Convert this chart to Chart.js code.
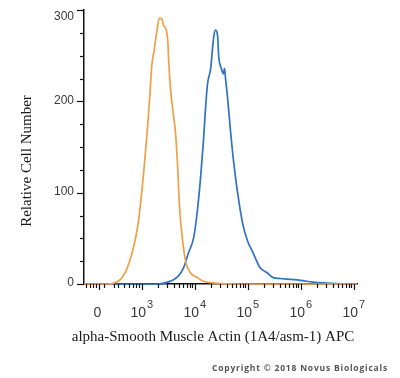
<!DOCTYPE html>
<html>
<head>
<meta charset="utf-8">
<script src="https://cdn.jsdelivr.net/npm/chart.js@4"></script>
<style>
  html, body { margin: 0; padding: 0; background: #fff; }
  #wrap { width: 400px; height: 378px; position: relative; }
</style>
</head>
<body>
<div id="wrap"><canvas id="histChart"></canvas></div>
<script>
// x values are display positions in decades (logicle-like axis), y = cell count
const isotypeX = [1.91, 2.35, 2.47, 2.60, 2.70, 2.83, 2.92, 2.98, 3.04, 3.10, 3.15, 3.19, 3.23, 3.28, 3.33, 3.38, 3.41, 3.45, 3.49, 3.51, 3.54, 3.58, 3.64, 3.68, 3.71, 3.77, 3.83, 3.92, 4.05, 4.16, 4.39, 4.86, 7.06];
const isotypeY = [0, 0, 1, 5, 14, 37, 62, 90, 125, 165, 205, 240, 255, 275, 291, 290, 283, 280, 266, 242, 215, 193, 163, 124, 86, 48, 24, 12, 7, 3, 1, 0, 0];

const sampleX = [1.91, 3.30, 3.49, 3.68, 3.79, 3.88, 3.98, 4.05, 4.11, 4.16, 4.20, 4.24, 4.30, 4.33, 4.36, 4.39, 4.43, 4.45, 4.50, 4.54, 4.56, 4.58, 4.62, 4.67, 4.73, 4.80, 4.90, 4.99, 5.10, 5.23, 5.37, 5.48, 5.61, 5.80, 5.99, 6.23, 6.49, 6.92, 7.06];
const sampleY = [0, 0, 2, 8, 18, 34, 51, 81, 117, 154, 190, 219, 236, 255, 272, 278, 272, 250, 236, 230, 236, 225, 203, 170, 135, 103, 67, 48, 34, 18, 12, 7, 6, 5, 4, 2, 1, 0, 0];

// axis ticks
const yMajorTicks = [0, 100, 200, 300];
const yMinorTicks = [25, 50, 75, 125, 150, 175, 225, 250, 275];
const xZero = 2.2;
const xDecades = [3, 4, 5, 6, 7];
const xDecadeLabels = ["3", "4", "5", "6", "7"];
const xNearZeroTicks = [1.95, 2.02, 2.08, 2.14, 2.28, 2.47, 2.56, 2.66, 2.76, 2.83, 2.89, 2.95];

const xTitle = "alpha-Smooth Muscle Actin (1A4/asm-1) APC";
const yTitle = "Relative Cell Number";
const copyright = "Copyright \u00A9 2018 Novus Biologicals";

const toPoints = (xs, ys) => xs.map((x, i) => ({ x: x, y: ys[i] }));

const axisDecor = {
  id: "axisDecor",
  afterDraw(chart) {
    const { ctx, scales } = chart;
    const xs = scales.x, ys = scales.y;
    const left = xs.left, bottom = ys.bottom;
    ctx.save();
    ctx.strokeStyle = "#111";
    ctx.lineWidth = 1.2;

    // y ticks
    yMajorTicks.forEach((v) => {
      const py = Math.round(ys.getPixelForValue(v)) + 0.5;
      ctx.beginPath(); ctx.moveTo(left - 7, py); ctx.lineTo(left, py); ctx.stroke();
    });
    yMinorTicks.forEach((v) => {
      const py = Math.round(ys.getPixelForValue(v)) + 0.5;
      ctx.beginPath(); ctx.moveTo(left - 4, py); ctx.lineTo(left, py); ctx.stroke();
    });

    // x ticks
    const minor = xNearZeroTicks.slice();
    for (let d = 3; d < 7; d++) {
      for (let k = 2; k <= 9; k++) minor.push(d + Math.log10(k));
    }
    minor.forEach((v) => {
      const px = Math.round(xs.getPixelForValue(v)) + 0.5;
      ctx.beginPath(); ctx.moveTo(px, bottom); ctx.lineTo(px, bottom + 4); ctx.stroke();
    });
    [xZero].concat(xDecades).forEach((v) => {
      const px = Math.round(xs.getPixelForValue(v)) + 0.5;
      ctx.beginPath(); ctx.moveTo(px, bottom); ctx.lineTo(px, bottom + 6); ctx.stroke();
    });

    // y labels
    ctx.fillStyle = "#3a3a3a";
    ctx.font = "12px 'Liberation Sans', Arial, sans-serif";
    ctx.textAlign = "right";
    ctx.textBaseline = "middle";
    yMajorTicks.forEach((v) => {
      const py = Math.max(ys.getPixelForValue(v), 18);
      ctx.fillText(String(v), left - 10, py - 1);
    });

    // x labels
    ctx.textBaseline = "alphabetic";
    ctx.textAlign = "center";
    ctx.font = "14px 'Liberation Sans', Arial, sans-serif";
    ctx.fillText("0", xs.getPixelForValue(xZero) - 2, 317);
    xDecades.forEach((v, i) => {
      const cx = xs.getPixelForValue(v);
      ctx.font = "14px 'Liberation Sans', Arial, sans-serif";
      const wBase = ctx.measureText("10").width;
      ctx.font = "11px 'Liberation Sans', Arial, sans-serif";
      const wSup = ctx.measureText(xDecadeLabels[i]).width;
      const start = cx - (wBase + wSup + 1) / 2;
      ctx.textAlign = "left";
      ctx.font = "14px 'Liberation Sans', Arial, sans-serif";
      ctx.fillText("10", start, 317);
      ctx.font = "11px 'Liberation Sans', Arial, sans-serif";
      ctx.fillText(xDecadeLabels[i], start + wBase + 1, 308);
    });

    // axis titles
    ctx.fillStyle = "#1a1a1a";
    ctx.font = "15px 'Liberation Serif', 'Times New Roman', serif";
    ctx.textAlign = "center";
    ctx.textBaseline = "middle";
    ctx.fillText(xTitle, 213, 337);
    ctx.save();
    ctx.translate(27, 161);
    ctx.rotate(-Math.PI / 2);
    ctx.fillText(yTitle, 0, 0);
    ctx.restore();

    // copyright
    ctx.fillStyle = "#555";
    ctx.font = "bold 8.5px 'Open Sans', 'Liberation Sans', sans-serif";
    ctx.textAlign = "left";
    ctx.textBaseline = "middle";
    ctx.letterSpacing = "0.8px";
    ctx.fillText(copyright, 212, 369);
    ctx.restore();
  },
};

document.addEventListener("DOMContentLoaded", () => {
  const ctx = document.getElementById("histChart").getContext("2d");
  new Chart(ctx, {
    type: "line",
    data: {
      datasets: [
        {
          label: "Isotype control",
          data: toPoints(isotypeX, isotypeY),
          borderColor: "#f0a045",
          borderWidth: 1.7,
          pointRadius: 0,
          fill: false,
          cubicInterpolationMode: "monotone",
          clip: false,
        },
        {
          label: "alpha-Smooth Muscle Actin",
          data: toPoints(sampleX, sampleY),
          borderColor: "#2f72c6",
          borderWidth: 1.7,
          pointRadius: 0,
          fill: false,
          cubicInterpolationMode: "monotone",
          clip: false,
        },
      ],
    },
    options: {
      responsive: true,
      maintainAspectRatio: false,
      animation: false,
      layout: { padding: { left: 76, right: 43, top: 10, bottom: 86 } },
      plugins: {
        legend: { display: false },
        tooltip: { enabled: false },
      },
      scales: {
        x: {
          type: "linear",
          min: 1.91,
          max: 7.06,
          grid: { display: false },
          ticks: { display: false },
          border: { display: true, color: "#111", width: 1.5 },
        },
        y: {
          min: 0,
          max: 300,
          grid: { display: false },
          ticks: { display: false },
          border: { display: true, color: "#111", width: 1.5 },
        },
      },
    },
    plugins: [axisDecor],
  });
});
</script>
</body>
</html>
